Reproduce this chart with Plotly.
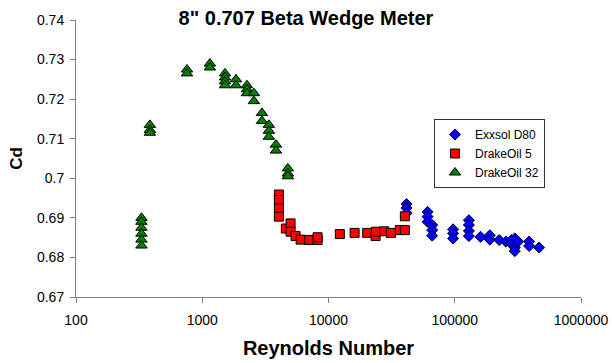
import plotly.graph_objects as go

# Exxsol D80 test points (Reynolds number, discharge coefficient)
exx_re = [41500, 41500, 41500,
          60950, 60950, 60950,
          66250, 66250, 66250,
          97000, 97000, 97000,
          129500, 129500, 129500, 129500,
          160000,
          189600, 189600,
          224900,
          254000,
          281800, 281800,
          299000, 299000, 299000, 299000,
          317800,
          388000, 388000,
          465700]
exx_cd = [0.6935, 0.6925, 0.6912,
          0.6915, 0.6903, 0.6890,
          0.6882, 0.6869, 0.6855,
          0.6871, 0.6861, 0.6848,
          0.6894, 0.6882, 0.6867, 0.6854,
          0.6852,
          0.6856, 0.6845,
          0.6844,
          0.6840,
          0.6844, 0.6834,
          0.6848, 0.6837, 0.6825, 0.6816,
          0.6840,
          0.6840, 0.6829,
          0.6825]

# DrakeOil 5 test points
d5_re = [4046, 4046, 4046, 4046,
         4596, 5007, 5007, 5486, 6011, 7031, 8195, 8195,
         12300, 16100, 20250, 23600, 23730, 27600, 31200,
         36740, 40260, 40260]
d5_cd = [0.6959, 0.6945, 0.6924, 0.6903,
         0.6873, 0.6886, 0.6865, 0.6854, 0.6845, 0.6844, 0.6844, 0.6851,
         0.6859, 0.6862, 0.6862, 0.6854, 0.6865, 0.6866, 0.6862,
         0.6869, 0.6869, 0.6904]

# DrakeOil 32 test points
d32_re = [330, 330, 330, 330, 330, 330,
          385, 385, 385,
          757, 757,
          1150, 1150,
          1514, 1514, 1514, 1514,
          1849, 1849,
          2259, 2259, 2259,
          2566, 2566,
          2971, 2971,
          3370, 3370, 3370,
          3837, 3837,
          4766, 4766, 4766]
d32_cd = [0.6900, 0.6890, 0.6875, 0.6860, 0.6845, 0.6830,
          0.7135, 0.7122, 0.7115,
          0.7275, 0.7265,
          0.7290, 0.7280,
          0.7265, 0.7255, 0.7245, 0.7235,
          0.7250, 0.7235,
          0.7235, 0.7225, 0.7215,
          0.7215, 0.7195,
          0.7165, 0.7145,
          0.7135, 0.7120, 0.7105,
          0.7085, 0.7070,
          0.7025, 0.7012, 0.7005]

x_ticks = [100, 1000, 10000, 100000, 1000000]
x_tick_text = ["100", "1000", "10000", "100000", "1000000"]
y_ticks = [0.67, 0.68, 0.69, 0.70, 0.71, 0.72, 0.73, 0.74]
y_tick_text = ["0.67", "0.68", "0.69", "0.7", "0.71", "0.72", "0.73", "0.74"]

FONT = "Liberation Sans, Arial, sans-serif"
AXIS_GREY = "#808080"

fig = go.Figure()
fig.add_trace(go.Scatter(
    x=exx_re, y=exx_cd, mode="markers", name="Exxsol D80",
    marker=dict(symbol="diamond", size=8.5, color="#0000FF",
                line=dict(color="#000033", width=1))))
fig.add_trace(go.Scatter(
    x=d5_re, y=d5_cd, mode="markers", name="DrakeOil 5",
    marker=dict(symbol="square", size=9, color="#FF0000",
                line=dict(color="#000000", width=1))))
fig.add_trace(go.Scatter(
    x=d32_re, y=d32_cd, mode="markers", name="DrakeOil 32",
    marker=dict(symbol="triangle-up", size=10, color="#008000",
                line=dict(color="#000000", width=1))))

fig.update_layout(
    width=612, height=363,
    margin=dict(l=76, r=31, t=20, b=66),
    paper_bgcolor="white", plot_bgcolor="white",
    font=dict(family=FONT, size=14, color="black"),
    title=dict(text="<b>8\" 0.707 Beta Wedge Meter</b>",
               font=dict(family=FONT, size=20, color="black"),
               x=0.5, xref="container", xanchor="center",
               y=1 - 18 / 363, yref="container", yanchor="middle"),
    showlegend=True,
    legend=dict(x=(545 - 76) / 505, xanchor="right",
                y=(297 - 119) / 277, yanchor="top",
                bordercolor="#333333", borderwidth=1,
                bgcolor="white", font=dict(family=FONT, size=12),
                tracegroupgap=0, itemwidth=30),
)

fig.update_xaxes(
    type="log", range=[2, 6], automargin=False,
    tickvals=x_ticks, ticktext=x_tick_text,
    showgrid=False, zeroline=False,
    showline=True, linecolor=AXIS_GREY, linewidth=1,
    ticks="outside", ticklen=5, tickcolor=AXIS_GREY,
    ticklabelstandoff=5,
    tickfont=dict(family=FONT, size=14, color="black"),
    title=dict(text="<b>Reynolds Number</b>",
               font=dict(family=FONT, size=20, color="black"),
               standoff=14),
)
fig.update_yaxes(
    range=[0.67, 0.74], automargin=False,
    tickvals=y_ticks, ticktext=y_tick_text,
    showgrid=False, zeroline=False,
    showline=True, linecolor=AXIS_GREY, linewidth=1,
    ticks="outside", ticklen=5, tickcolor=AXIS_GREY,
    ticklabelstandoff=3,
    tickfont=dict(family=FONT, size=14, color="black"),
    title=dict(text="<b>Cd</b>",
               font=dict(family=FONT, size=17, color="black"),
               standoff=10),
)

fig.write_html("out.html")
